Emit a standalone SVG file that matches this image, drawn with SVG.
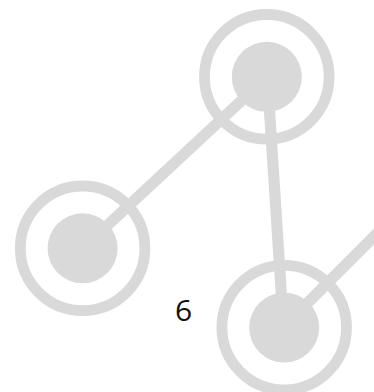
<svg xmlns="http://www.w3.org/2000/svg" width="374" height="392" viewBox="0 0 374 392">
<style>
.ring{fill:none;stroke:#d9d9d9;stroke-width:10.8}
.core{fill:#d9d9d9}
.link{fill:none;stroke:#d9d9d9;stroke-width:11.2;stroke-linejoin:miter;stroke-linecap:butt;stroke-miterlimit:10}
.lbl{font-family:"Open Sans","Liberation Sans",sans-serif;font-size:30px;fill:#111}
</style>
<rect width="374" height="392" fill="#ffffff"/>
<g id="node-top">
<circle class="ring" cx="266.8" cy="76.8" r="62.3"/>
<circle class="core" cx="266.8" cy="76.8" r="35"/>
</g>
<g id="node-left">
<circle class="ring" cx="82.6" cy="248.3" r="62.3"/>
<circle class="core" cx="82.6" cy="248.3" r="35"/>
</g>
<g id="node-bottom">
<circle class="ring" cx="284.2" cy="327.6" r="62.3"/>
<circle class="core" cx="284.2" cy="327.6" r="35"/>
</g>
<g id="connectors">
<polyline class="link" points="82.7,248.3 267.3,76.7 283.5,327 430,180.5"/>
</g>
<g id="label">
<text class="lbl" x="183.7" y="320.5" text-anchor="middle">6</text>
</g>
</svg>
